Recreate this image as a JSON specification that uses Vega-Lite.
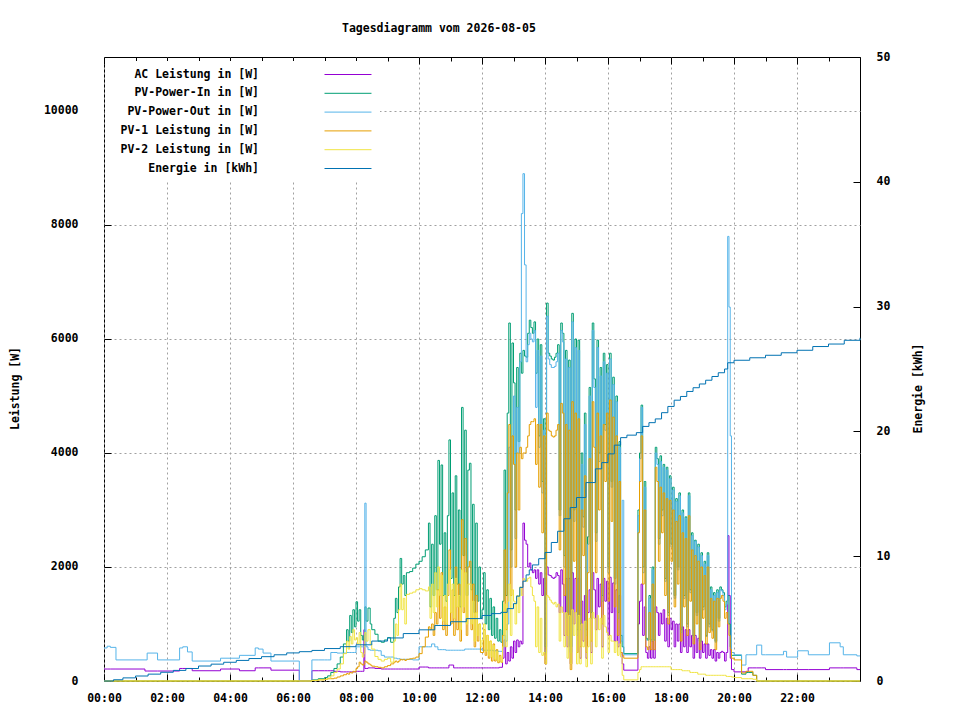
{
"$schema": "https://vega.github.io/schema/vega-lite/v6.json",
"width": 756, "height": 624,
"autosize": {"type": "none"},
"padding": {"left": 104, "top": 57, "right": 100, "bottom": 39},
"background": "white",
"title": {"text": "Tagesdiagramm vom 2026-08-05", "font": "DejaVu Sans Mono", "fontSize": 11.5, "fontWeight": "bold", "color": "black", "anchor": "start", "dx": 333, "offset": 17},
"config": {
 "view": {"stroke": "black", "strokeWidth": 1},
 "axis": {"labelFont": "DejaVu Sans Mono", "labelFontSize": 11.5, "labelFontWeight": "bold", "labelColor": "black", "titleFont": "DejaVu Sans Mono", "titleFontSize": 11.5, "titleFontWeight": "bold", "titleColor": "black", "domain": false, "tickColor": "black", "tickSize": -7, "gridColor": "#a0a0a0", "gridDash": [2, 3], "gridWidth": 1}
},
"layer": [
 {
  "data": {"values": [
{"t":0.0,"a":210,"i":0,"o":580,"p1":0,"p2":0},
{"t":0.1,"a":210,"i":0,"o":610,"p1":0,"p2":0},
{"t":0.2,"a":210,"i":0,"o":590,"p1":0,"p2":0},
{"t":0.38,"a":210,"i":0,"o":370,"p1":0,"p2":0},
{"t":1.3,"a":175,"i":0,"o":370,"p1":0,"p2":0},
{"t":1.37,"a":175,"i":0,"o":490,"p1":0,"p2":0},
{"t":1.7,"a":175,"i":0,"o":370,"p1":0,"p2":0},
{"t":2.4,"a":220,"i":0,"o":580,"p1":0,"p2":0},
{"t":2.5,"a":220,"i":0,"o":600,"p1":0,"p2":0},
{"t":2.65,"a":220,"i":0,"o":510,"p1":0,"p2":0},
{"t":2.8,"a":180,"i":0,"o":350,"p1":0,"p2":0},
{"t":3.7,"a":210,"i":0,"o":400,"p1":0,"p2":0},
{"t":4.3,"a":180,"i":0,"o":450,"p1":0,"p2":0},
{"t":4.8,"a":230,"i":0,"o":580,"p1":0,"p2":0},
{"t":4.9,"a":230,"i":0,"o":560,"p1":0,"p2":0},
{"t":5.05,"a":230,"i":0,"o":490,"p1":0,"p2":0},
{"t":5.3,"a":190,"i":0,"o":350,"p1":0,"p2":0},
{"t":6.2,"a":0,"i":0,"o":0,"p1":0,"p2":0},
{"t":6.6,"a":180,"i":20,"o":370,"p1":10,"p2":10},
{"t":6.8,"a":180,"i":40,"o":370,"p1":20,"p2":20},
{"t":7.0,"a":180,"i":60,"o":370,"p1":30,"p2":30},
{"t":7.1,"a":180,"i":90,"o":370,"p1":40,"p2":50},
{"t":7.2,"a":180,"i":150,"o":500,"p1":40,"p2":90},
{"t":7.3,"a":170,"i":220,"o":500,"p1":50,"p2":150},
{"t":7.4,"a":170,"i":300,"o":490,"p1":70,"p2":210},
{"t":7.5,"a":160,"i":420,"o":490,"p1":90,"p2":300},
{"t":7.6,"a":160,"i":650,"o":490,"p1":110,"p2":480},
{"t":7.7,"a":160,"i":900,"o":500,"p1":130,"p2":700},
{"t":7.75,"a":160,"i":700,"o":500,"p1":120,"p2":560},
{"t":7.8,"a":160,"i":1150,"o":500,"p1":150,"p2":780},
{"t":7.85,"a":160,"i":850,"o":500,"p1":140,"p2":650},
{"t":7.9,"a":160,"i":1250,"o":500,"p1":170,"p2":900},
{"t":7.95,"a":160,"i":950,"o":500,"p1":160,"p2":720},
{"t":8.0,"a":170,"i":1390,"o":600,"p1":220,"p2":760},
{"t":8.05,"a":170,"i":1050,"o":600,"p1":250,"p2":650},
{"t":8.1,"a":170,"i":1250,"o":600,"p1":330,"p2":850},
{"t":8.15,"a":170,"i":800,"o":600,"p1":300,"p2":500},
{"t":8.2,"a":170,"i":720,"o":600,"p1":280,"p2":420},
{"t":8.25,"a":900,"i":800,"o":600,"p1":300,"p2":480},
{"t":8.28,"a":220,"i":1300,"o":3120,"p1":350,"p2":850},
{"t":8.32,"a":220,"i":1050,"o":600,"p1":330,"p2":700},
{"t":8.38,"a":230,"i":1280,"o":550,"p1":300,"p2":900},
{"t":8.45,"a":230,"i":1000,"o":540,"p1":280,"p2":650},
{"t":8.5,"a":230,"i":900,"o":540,"p1":260,"p2":560},
{"t":8.6,"a":220,"i":820,"o":540,"p1":250,"p2":430},
{"t":8.7,"a":220,"i":700,"o":530,"p1":240,"p2":380},
{"t":8.8,"a":210,"i":680,"o":450,"p1":230,"p2":350},
{"t":8.9,"a":210,"i":720,"o":420,"p1":250,"p2":380},
{"t":9.0,"a":210,"i":760,"o":420,"p1":270,"p2":400},
{"t":9.1,"a":210,"i":680,"o":420,"p1":300,"p2":330},
{"t":9.2,"a":210,"i":1100,"o":400,"p1":330,"p2":700},
{"t":9.25,"a":210,"i":1450,"o":400,"p1":350,"p2":1000},
{"t":9.3,"a":210,"i":1200,"o":390,"p1":330,"p2":800},
{"t":9.35,"a":210,"i":1650,"o":390,"p1":350,"p2":1250},
{"t":9.4,"a":210,"i":2150,"o":380,"p1":380,"p2":1700},
{"t":9.45,"a":210,"i":1700,"o":380,"p1":370,"p2":1250},
{"t":9.5,"a":210,"i":1850,"o":380,"p1":380,"p2":1450},
{"t":9.55,"a":210,"i":1500,"o":380,"p1":360,"p2":1000},
{"t":9.6,"a":210,"i":1900,"o":380,"p1":380,"p2":1520},
{"t":9.7,"a":210,"i":1920,"o":380,"p1":390,"p2":1540},
{"t":9.8,"a":210,"i":1980,"o":370,"p1":400,"p2":1560},
{"t":9.9,"a":210,"i":2050,"o":370,"p1":420,"p2":1600},
{"t":10.0,"a":245,"i":2100,"o":600,"p1":480,"p2":1620},
{"t":10.1,"a":245,"i":2180,"o":600,"p1":600,"p2":1600},
{"t":10.2,"a":245,"i":2300,"o":600,"p1":770,"p2":1580},
{"t":10.3,"a":230,"i":2770,"o":600,"p1":950,"p2":1650},
{"t":10.35,"a":230,"i":1300,"o":600,"p1":900,"p2":1100},
{"t":10.4,"a":230,"i":2400,"o":650,"p1":1000,"p2":1700},
{"t":10.45,"a":230,"i":1500,"o":650,"p1":800,"p2":1200},
{"t":10.5,"a":230,"i":2900,"o":600,"p1":1200,"p2":1900},
{"t":10.55,"a":230,"i":1600,"o":600,"p1":1000,"p2":1300},
{"t":10.6,"a":230,"i":3870,"o":550,"p1":1600,"p2":2000},
{"t":10.65,"a":230,"i":2400,"o":550,"p1":1100,"p2":1500},
{"t":10.7,"a":230,"i":3790,"o":550,"p1":1900,"p2":1850},
{"t":10.75,"a":230,"i":1500,"o":550,"p1":900,"p2":1050},
{"t":10.8,"a":230,"i":2600,"o":550,"p1":1300,"p2":1500},
{"t":10.85,"a":230,"i":1400,"o":540,"p1":800,"p2":1000},
{"t":10.9,"a":230,"i":2900,"o":540,"p1":1500,"p2":1700},
{"t":10.95,"a":280,"i":4230,"o":540,"p1":2300,"p2":1950},
{"t":11.0,"a":280,"i":1800,"o":540,"p1":1000,"p2":1200},
{"t":11.05,"a":280,"i":3300,"o":540,"p1":1600,"p2":1700},
{"t":11.1,"a":230,"i":1500,"o":540,"p1":800,"p2":1100},
{"t":11.15,"a":230,"i":3600,"o":540,"p1":2000,"p2":1800},
{"t":11.2,"a":230,"i":1700,"o":540,"p1":900,"p2":1300},
{"t":11.25,"a":230,"i":3000,"o":540,"p1":1700,"p2":1500},
{"t":11.3,"a":230,"i":1300,"o":540,"p1":700,"p2":900},
{"t":11.35,"a":230,"i":4800,"o":540,"p1":2830,"p2":1950},
{"t":11.4,"a":230,"i":2200,"o":540,"p1":1200,"p2":1300},
{"t":11.45,"a":230,"i":4400,"o":560,"p1":2500,"p2":1900},
{"t":11.5,"a":230,"i":1500,"o":560,"p1":800,"p2":1000},
{"t":11.55,"a":230,"i":3700,"o":560,"p1":2000,"p2":1700},
{"t":11.6,"a":230,"i":3820,"o":560,"p1":2100,"p2":1700},
{"t":11.65,"a":230,"i":1600,"o":560,"p1":900,"p2":1000},
{"t":11.7,"a":230,"i":3100,"o":560,"p1":1700,"p2":1400},
{"t":11.75,"a":230,"i":1200,"o":560,"p1":600,"p2":700},
{"t":11.8,"a":230,"i":2770,"o":560,"p1":1500,"p2":1200},
{"t":11.85,"a":230,"i":1400,"o":560,"p1":700,"p2":800},
{"t":11.9,"a":230,"i":2000,"o":560,"p1":1000,"p2":1000},
{"t":11.95,"a":230,"i":1100,"o":560,"p1":500,"p2":600},
{"t":12.0,"a":230,"i":1250,"o":540,"p1":500,"p2":720},
{"t":12.05,"a":230,"i":1900,"o":540,"p1":900,"p2":1000},
{"t":12.1,"a":230,"i":1000,"o":540,"p1":450,"p2":520},
{"t":12.15,"a":230,"i":1600,"o":540,"p1":800,"p2":800},
{"t":12.2,"a":230,"i":900,"o":540,"p1":400,"p2":450},
{"t":12.25,"a":230,"i":1450,"o":540,"p1":700,"p2":700},
{"t":12.3,"a":230,"i":800,"o":540,"p1":350,"p2":420},
{"t":12.35,"a":230,"i":1300,"o":530,"p1":650,"p2":620},
{"t":12.4,"a":230,"i":750,"o":530,"p1":350,"p2":380},
{"t":12.45,"a":230,"i":1100,"o":530,"p1":550,"p2":520},
{"t":12.5,"a":230,"i":700,"o":520,"p1":320,"p2":350},
{"t":12.55,"a":240,"i":900,"o":520,"p1":450,"p2":420},
{"t":12.6,"a":240,"i":680,"o":520,"p1":330,"p2":330},
{"t":12.65,"a":400,"i":1400,"o":600,"p1":800,"p2":600},
{"t":12.7,"a":720,"i":3700,"o":800,"p1":2300,"p2":1350},
{"t":12.75,"a":300,"i":1500,"o":700,"p1":900,"p2":600},
{"t":12.8,"a":500,"i":4700,"o":1000,"p1":3300,"p2":1400},
{"t":12.85,"a":350,"i":6280,"o":4100,"p1":4500,"p2":1700},
{"t":12.9,"a":600,"i":2300,"o":2000,"p1":1500,"p2":800},
{"t":12.95,"a":400,"i":5930,"o":4300,"p1":4300,"p2":1600},
{"t":13.0,"a":700,"i":5230,"o":5000,"p1":3800,"p2":1400},
{"t":13.05,"a":500,"i":3000,"o":2500,"p1":2000,"p2":1000},
{"t":13.1,"a":720,"i":5500,"o":4800,"p1":4000,"p2":1500},
{"t":13.15,"a":600,"i":4200,"o":4000,"p1":3000,"p2":1200},
{"t":13.2,"a":700,"i":5750,"o":5600,"p1":4100,"p2":1650},
{"t":13.25,"a":650,"i":5400,"o":8200,"p1":3900,"p2":1500},
{"t":13.3,"a":2770,"i":5800,"o":8900,"p1":4000,"p2":1800},
{"t":13.35,"a":2470,"i":5700,"o":7300,"p1":4000,"p2":1770},
{"t":13.4,"a":2400,"i":5680,"o":5600,"p1":4100,"p2":1750},
{"t":13.45,"a":2000,"i":6100,"o":5900,"p1":4300,"p2":1800},
{"t":13.5,"a":2070,"i":6330,"o":6100,"p1":4500,"p2":1820},
{"t":13.55,"a":1950,"i":6200,"o":6000,"p1":4550,"p2":1650},
{"t":13.6,"a":1900,"i":6100,"o":5950,"p1":4550,"p2":1500},
{"t":13.65,"a":1950,"i":6300,"o":6150,"p1":4600,"p2":1400},
{"t":13.7,"a":1800,"i":5400,"o":4800,"p1":3800,"p2":600},
{"t":13.75,"a":1950,"i":6000,"o":5800,"p1":4500,"p2":1300},
{"t":13.8,"a":1700,"i":4300,"o":4100,"p1":3400,"p2":500},
{"t":13.85,"a":1900,"i":5900,"o":5700,"p1":4500,"p2":1100},
{"t":13.9,"a":1500,"i":3500,"o":3300,"p1":2600,"p2":450},
{"t":13.95,"a":1800,"i":4600,"o":4400,"p1":4300,"p2":500},
{"t":14.0,"a":300,"i":600,"o":500,"p1":300,"p2":300},
{"t":14.05,"a":2000,"i":6630,"o":6400,"p1":4700,"p2":1500},
{"t":14.1,"a":1860,"i":5750,"o":5650,"p1":4400,"p2":1470},
{"t":14.15,"a":1850,"i":5700,"o":5550,"p1":4380,"p2":1420},
{"t":14.2,"a":1820,"i":5650,"o":5500,"p1":4300,"p2":1380},
{"t":14.25,"a":1800,"i":5630,"o":5500,"p1":4280,"p2":1350},
{"t":14.3,"a":1820,"i":5680,"o":5520,"p1":4300,"p2":1380},
{"t":14.35,"a":1900,"i":5750,"o":5600,"p1":4400,"p2":1300},
{"t":14.4,"a":1850,"i":5900,"o":5750,"p1":4500,"p2":1350},
{"t":14.45,"a":1200,"i":3000,"o":2900,"p1":2300,"p2":700},
{"t":14.5,"a":1950,"i":6280,"o":6150,"p1":4870,"p2":1300},
{"t":14.55,"a":1700,"i":6100,"o":5950,"p1":4700,"p2":1200},
{"t":14.6,"a":800,"i":2200,"o":2000,"p1":1500,"p2":600},
{"t":14.65,"a":1800,"i":5800,"o":5650,"p1":4500,"p2":1200},
{"t":14.7,"a":600,"i":1200,"o":1100,"p1":800,"p2":400},
{"t":14.75,"a":1800,"i":5630,"o":5500,"p1":4400,"p2":1150},
{"t":14.8,"a":300,"i":600,"o":500,"p1":200,"p2":300},
{"t":14.85,"a":1900,"i":6450,"o":6300,"p1":4900,"p2":1250},
{"t":14.9,"a":1000,"i":3000,"o":2800,"p1":2100,"p2":800},
{"t":14.95,"a":1800,"i":6000,"o":5850,"p1":4700,"p2":1200},
{"t":15.0,"a":500,"i":900,"o":800,"p1":500,"p2":300},
{"t":15.05,"a":1800,"i":5980,"o":5800,"p1":4600,"p2":1150},
{"t":15.1,"a":400,"i":1000,"o":900,"p1":600,"p2":300},
{"t":15.15,"a":1400,"i":4000,"o":3800,"p1":3000,"p2":1000},
{"t":15.2,"a":700,"i":2880,"o":2700,"p1":2200,"p2":600},
{"t":15.25,"a":1500,"i":4700,"o":4500,"p1":3600,"p2":1050},
{"t":15.3,"a":400,"i":900,"o":800,"p1":500,"p2":250},
{"t":15.35,"a":1200,"i":2530,"o":2400,"p1":1900,"p2":600},
{"t":15.4,"a":1600,"i":5150,"o":5000,"p1":3900,"p2":1100},
{"t":15.45,"a":500,"i":1200,"o":1100,"p1":700,"p2":300},
{"t":15.5,"a":1900,"i":6280,"o":6150,"p1":4900,"p2":1200},
{"t":15.55,"a":1600,"i":5300,"o":5150,"p1":4100,"p2":1100},
{"t":15.6,"a":900,"i":2600,"o":2450,"p1":1900,"p2":600},
{"t":15.65,"a":1800,"i":5980,"o":5850,"p1":4700,"p2":1150},
{"t":15.7,"a":1300,"i":4000,"o":3850,"p1":3000,"p2":900},
{"t":15.75,"a":1700,"i":5500,"o":5350,"p1":4300,"p2":1100},
{"t":15.8,"a":600,"i":1500,"o":1400,"p1":1000,"p2":400},
{"t":15.85,"a":1800,"i":5750,"o":5600,"p1":4500,"p2":1150},
{"t":15.9,"a":1400,"i":4500,"o":4400,"p1":3500,"p2":950},
{"t":15.95,"a":1750,"i":5550,"o":5400,"p1":4700,"p2":850},
{"t":16.0,"a":800,"i":2000,"o":1900,"p1":1400,"p2":500},
{"t":16.05,"a":1820,"i":5750,"o":5650,"p1":4930,"p2":800},
{"t":16.1,"a":1200,"i":3500,"o":3400,"p1":2800,"p2":700},
{"t":16.15,"a":1720,"i":5330,"o":5200,"p1":4630,"p2":700},
{"t":16.2,"a":700,"i":1800,"o":1700,"p1":1300,"p2":500},
{"t":16.25,"a":1600,"i":5000,"o":4900,"p1":4300,"p2":700},
{"t":16.3,"a":600,"i":1200,"o":1100,"p1":800,"p2":450},
{"t":16.35,"a":1500,"i":4200,"o":4100,"p1":3500,"p2":650},
{"t":16.4,"a":500,"i":800,"o":700,"p1":500,"p2":420},
{"t":16.45,"a":300,"i":600,"o":3170,"p1":450,"p2":100},
{"t":16.5,"a":190,"i":480,"o":460,"p1":400,"p2":20},
{"t":16.95,"a":1000,"i":3000,"o":2900,"p1":2600,"p2":150},
{"t":17.0,"a":1400,"i":4000,"o":3900,"p1":3500,"p2":200},
{"t":17.05,"a":1700,"i":4840,"o":4800,"p1":4300,"p2":250},
{"t":17.1,"a":800,"i":2000,"o":1900,"p1":1700,"p2":250},
{"t":17.15,"a":1300,"i":3500,"o":3400,"p1":3000,"p2":250},
{"t":17.2,"a":500,"i":750,"o":720,"p1":600,"p2":250},
{"t":17.25,"a":400,"i":720,"o":720,"p1":550,"p2":250},
{"t":17.3,"a":600,"i":1500,"o":1450,"p1":1200,"p2":250},
{"t":17.35,"a":400,"i":720,"o":700,"p1":550,"p2":250},
{"t":17.4,"a":700,"i":2000,"o":1950,"p1":1700,"p2":250},
{"t":17.45,"a":400,"i":720,"o":720,"p1":550,"p2":250},
{"t":17.5,"a":1300,"i":4100,"o":4000,"p1":3750,"p2":250},
{"t":17.55,"a":1200,"i":3900,"o":3800,"p1":3500,"p2":250},
{"t":17.6,"a":800,"i":2500,"o":2400,"p1":2100,"p2":250},
{"t":17.65,"a":1190,"i":3950,"o":3850,"p1":3400,"p2":250},
{"t":17.7,"a":1000,"i":3000,"o":2900,"p1":2600,"p2":250},
{"t":17.75,"a":1250,"i":3800,"o":3750,"p1":3300,"p2":250},
{"t":17.8,"a":700,"i":1800,"o":1750,"p1":1500,"p2":250},
{"t":17.85,"a":1100,"i":3750,"o":3700,"p1":3200,"p2":250},
{"t":17.9,"a":600,"i":1200,"o":1150,"p1":1000,"p2":250},
{"t":17.95,"a":1100,"i":3600,"o":3550,"p1":3170,"p2":250},
{"t":18.0,"a":900,"i":2400,"o":2350,"p1":2100,"p2":200},
{"t":18.05,"a":1050,"i":3400,"o":3350,"p1":3000,"p2":200},
{"t":18.1,"a":600,"i":1500,"o":1450,"p1":1300,"p2":200},
{"t":18.15,"a":1000,"i":3200,"o":3150,"p1":2800,"p2":200},
{"t":18.2,"a":700,"i":2000,"o":1950,"p1":1700,"p2":200},
{"t":18.25,"a":1000,"i":3300,"o":3250,"p1":2900,"p2":200},
{"t":18.3,"a":500,"i":900,"o":850,"p1":700,"p2":200},
{"t":18.35,"a":950,"i":3000,"o":2950,"p1":2600,"p2":180},
{"t":18.4,"a":600,"i":1500,"o":1450,"p1":1300,"p2":180},
{"t":18.45,"a":900,"i":2880,"o":2850,"p1":2500,"p2":180},
{"t":18.5,"a":500,"i":1000,"o":950,"p1":800,"p2":180},
{"t":18.55,"a":900,"i":3300,"o":3250,"p1":2900,"p2":180},
{"t":18.6,"a":600,"i":1600,"o":1550,"p1":1400,"p2":150},
{"t":18.65,"a":800,"i":2600,"o":2550,"p1":2300,"p2":150},
{"t":18.7,"a":400,"i":800,"o":780,"p1":650,"p2":150},
{"t":18.75,"a":800,"i":2470,"o":2450,"p1":2200,"p2":150},
{"t":18.8,"a":500,"i":1200,"o":1150,"p1":1000,"p2":150},
{"t":18.85,"a":750,"i":2400,"o":2350,"p1":2100,"p2":120},
{"t":18.9,"a":400,"i":700,"o":680,"p1":550,"p2":120},
{"t":18.95,"a":700,"i":2250,"o":2200,"p1":2000,"p2":120},
{"t":19.0,"a":500,"i":1300,"o":1250,"p1":1100,"p2":120},
{"t":19.05,"a":650,"i":2100,"o":2050,"p1":1850,"p2":120},
{"t":19.1,"a":400,"i":800,"o":780,"p1":650,"p2":100},
{"t":19.15,"a":650,"i":2250,"o":2200,"p1":2000,"p2":100},
{"t":19.2,"a":450,"i":1000,"o":950,"p1":850,"p2":100},
{"t":19.25,"a":550,"i":1650,"o":1600,"p1":1450,"p2":100},
{"t":19.3,"a":400,"i":900,"o":880,"p1":750,"p2":100},
{"t":19.35,"a":550,"i":1550,"o":1500,"p1":1400,"p2":100},
{"t":19.4,"a":350,"i":700,"o":680,"p1":550,"p2":100},
{"t":19.45,"a":500,"i":1600,"o":1550,"p1":1450,"p2":100},
{"t":19.5,"a":400,"i":1100,"o":1050,"p1":950,"p2":100},
{"t":19.55,"a":500,"i":1650,"o":1600,"p1":1450,"p2":100},
{"t":19.6,"a":520,"i":1600,"o":1580,"p1":1500,"p2":100},
{"t":19.65,"a":500,"i":1550,"o":1500,"p1":1400,"p2":100},
{"t":19.7,"a":350,"i":1300,"o":1250,"p1":1100,"p2":100},
{"t":19.75,"a":500,"i":1400,"o":1350,"p1":1200,"p2":80},
{"t":19.8,"a":2550,"i":1500,"o":7800,"p1":1000,"p2":80},
{"t":19.84,"a":1500,"i":1000,"o":6560,"p1":800,"p2":80},
{"t":19.88,"a":400,"i":600,"o":4300,"p1":550,"p2":80},
{"t":19.92,"a":200,"i":450,"o":500,"p1":400,"p2":70},
{"t":20.0,"a":160,"i":450,"o":460,"p1":370,"p2":60},
{"t":20.24,"a":160,"i":120,"o":280,"p1":140,"p2":40},
{"t":20.38,"a":160,"i":150,"o":460,"p1":170,"p2":40},
{"t":20.45,"a":230,"i":150,"o":460,"p1":170,"p2":40},
{"t":20.6,"a":230,"i":100,"o":460,"p1":100,"p2":30},
{"t":20.72,"a":230,"i":0,"o":630,"p1":0,"p2":0},
{"t":20.88,"a":230,"i":0,"o":460,"p1":0,"p2":0},
{"t":21.0,"a":200,"i":0,"o":460,"p1":0,"p2":0},
{"t":21.57,"a":200,"i":0,"o":520,"p1":0,"p2":0},
{"t":21.67,"a":200,"i":0,"o":420,"p1":0,"p2":0},
{"t":22.02,"a":200,"i":0,"o":530,"p1":0,"p2":0},
{"t":22.36,"a":200,"i":0,"o":460,"p1":0,"p2":0},
{"t":23.03,"a":230,"i":0,"o":670,"p1":0,"p2":0},
{"t":23.37,"a":230,"i":0,"o":600,"p1":0,"p2":0},
{"t":23.47,"a":230,"i":0,"o":460,"p1":0,"p2":0},
{"t":23.9,"a":200,"i":0,"o":440,"p1":0,"p2":0},
{"t":24.0,"a":200,"i":0,"o":440,"p1":0,"p2":0}
  ]},
  "transform": [{"fold": ["a", "i", "o", "p1", "p2"], "as": ["k", "v"]}],
  "mark": {"type": "line", "interpolate": "step-after", "strokeWidth": 1},
  "encoding": {
   "x": {"field": "t", "type": "quantitative", "scale": {"domain": [0, 24], "nice": false, "zero": false},
    "axis": {"title": null, "values": [0,1,2,3,4,5,6,7,8,9,10,11,12,13,14,15,16,17,18,19,20,21,22,23],
     "labelExpr": "datum.value % 2 == 1 ? '' : (datum.value < 10 ? '0' : '') + datum.value + ':00'",
     "tickSize": {"condition": {"test": "datum.value % 2 == 1", "value": -4}, "value": -7},
     "gridOpacity": {"condition": {"test": "datum.value % 2 == 1", "value": 0}, "value": 1},
     "labelPadding": 18, "labelFlush": false}},
   "y": {"field": "v", "type": "quantitative", "scale": {"domain": [0, 10947], "nice": false},
    "axis": {"title": "Leistung [W]", "format": "d", "values": [0, 2000, 4000, 6000, 8000, 10000], "labelPadding": 33, "titleX": -84, "titleY": 331, "titleAngle": 270, "labelFlush": false}},
   "color": {"field": "k", "type": "nominal",
    "scale": {"domain": ["a", "i", "o", "p1", "p2", "e"], "range": ["#9400d3", "#009e73", "#56b4e9", "#e69f00", "#f0e442", "#0072b2"]},
    "legend": {"orient": "none", "legendX": 1, "legendY": 4, "title": null, "symbolType": "M29.43,0L36.14,0", "symbolSize": 196, "symbolStrokeWidth": 1, "labelAlign": "right", "labelOffset": 133, "labelLimit": 300, "labelFont": "DejaVu Sans Mono", "labelFontSize": 11.5, "labelFontWeight": "bold", "labelColor": "black", "rowPadding": 5.8, "fillColor": "white", "padding": 6,
     "labelExpr": "{'a': 'AC Leistung in [W]', 'i': 'PV-Power-In in [W]', 'o': 'PV-Power-Out in [W]', 'p1': 'PV-1 Leistung in [W]', 'p2': 'PV-2 Leistung in [W]', 'e': 'Energie in [kWh]'}[datum.value]"}}
  }
 },
 {
  "data": {"values": [
{"t":0,"e":0},{"t":0.3,"e":0.1},{"t":0.6,"e":0.25},{"t":1.0,"e":0.4},{"t":1.4,"e":0.55},{"t":1.8,"e":0.7},{"t":2.2,"e":0.85},{"t":2.6,"e":1.0},{"t":3.0,"e":1.2},{"t":3.4,"e":1.35},{"t":3.8,"e":1.5},{"t":4.2,"e":1.65},{"t":4.6,"e":1.8},{"t":5.0,"e":1.95},{"t":5.4,"e":2.1},{"t":5.8,"e":2.25},{"t":6.2,"e":2.35},{"t":6.6,"e":2.45},{"t":7.0,"e":2.6},{"t":7.5,"e":2.75},{"t":8.0,"e":2.9},{"t":8.5,"e":3.2},{"t":9.0,"e":3.45},{"t":9.5,"e":3.8},{"t":10.0,"e":4.1},{"t":10.5,"e":4.45},{"t":11.0,"e":4.75},{"t":11.5,"e":5.0},{"t":12.0,"e":5.25},{"t":12.3,"e":5.4},{"t":12.6,"e":5.5},{"t":12.8,"e":5.8},{"t":13.0,"e":6.2},{"t":13.1,"e":6.8},{"t":13.2,"e":7.5},{"t":13.3,"e":8.0},{"t":13.4,"e":8.5},{"t":13.5,"e":8.9},{"t":13.6,"e":9.3},{"t":13.8,"e":9.8},{"t":14.0,"e":10.3},{"t":14.2,"e":11.1},{"t":14.4,"e":12.0},{"t":14.6,"e":13.0},{"t":14.8,"e":13.9},{"t":15.0,"e":14.7},{"t":15.3,"e":15.9},{"t":15.6,"e":17.0},{"t":15.8,"e":17.5},{"t":16.0,"e":18.2},{"t":16.2,"e":18.9},{"t":16.4,"e":19.5},{"t":16.6,"e":19.7},{"t":16.9,"e":19.9},{"t":17.1,"e":20.4},{"t":17.3,"e":20.7},{"t":17.5,"e":21.0},{"t":17.7,"e":21.5},{"t":17.9,"e":22.0},{"t":18.1,"e":22.5},{"t":18.3,"e":22.8},{"t":18.5,"e":23.2},{"t":18.7,"e":23.5},{"t":18.9,"e":23.8},{"t":19.1,"e":24.1},{"t":19.3,"e":24.4},{"t":19.5,"e":24.7},{"t":19.7,"e":25.0},{"t":19.8,"e":25.5},{"t":20.0,"e":25.7},{"t":20.5,"e":25.9},{"t":21.0,"e":26.1},{"t":21.5,"e":26.3},{"t":22.0,"e":26.5},{"t":22.5,"e":26.8},{"t":23.0,"e":27.0},{"t":23.5,"e":27.3},{"t":24.0,"e":27.5}
  ]},
  "mark": {"type": "line", "interpolate": "step-after", "strokeWidth": 1},
  "encoding": {
   "x": {"field": "t", "type": "quantitative",
    "axis": {"orient": "top", "title": null, "labels": false, "grid": false, "values": [0,1,2,3,4,5,6,7,8,9,10,11,12,13,14,15,16,17,18,19,20,21,22,23],
     "tickSize": {"condition": {"test": "datum.value % 2 == 1", "value": -4}, "value": -7}}},
   "y": {"field": "e", "type": "quantitative", "scale": {"domain": [0, 50], "nice": false},
    "axis": {"orient": "right", "title": "Energie [kWh]", "values": [0, 10, 20, 30, 40, 50], "grid": false, "labelPadding": 23, "titleX": 63, "titleY": 331, "titleAngle": 270, "labelFlush": false}},
   "color": {"datum": "e"}
  }
 }
],
"resolve": {"scale": {"y": "independent"}, "axis": {"x": "independent"}}
}
